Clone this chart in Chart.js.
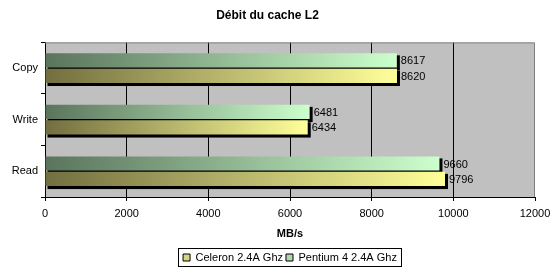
<!DOCTYPE html>
<html>
<head>
<meta charset="utf-8">
<script src="https://cdn.jsdelivr.net/npm/chart.js@4/dist/chart.umd.min.js"></script>
<style>
  html, body { margin: 0; padding: 0; background: #fff; }
  #wrap { width: 558px; height: 273px; }
</style>
</head>
<body>
<div id="wrap"><canvas id="myChart" width="558" height="273"></canvas></div>
<script>
const categories = ['Copy', 'Write', 'Read'];
const pentium = [8617, 6481, 9660];
const celeron = [8620, 6434, 9796];
const xTicks = [0, 2000, 4000, 6000, 8000, 10000, 12000];

const FONT = 'Arial, "Liberation Sans", sans-serif';

function barGradient(ctx, dark, light) {
    const chart = ctx.chart;
    const xs = chart.scales.x;
    if (!xs || ctx.raw === undefined) return light;
    const x0 = xs.getPixelForValue(0);
    const x1 = xs.getPixelForValue(ctx.raw);
    const g = chart.ctx.createLinearGradient(x0, 0, x1, 0);
    g.addColorStop(0, dark);
    g.addColorStop(1, light);
    return g;
}

// gray plot background, gray top/right border
const plotBg = {
    id: 'plotBg',
    beforeDraw(chart) {
        const {ctx, chartArea: a} = chart;
        ctx.save();
        ctx.fillStyle = '#c0c0c0';
        ctx.fillRect(a.left, a.top, a.right - a.left, a.bottom - a.top);
        ctx.restore();
    },
    afterDraw(chart) {
        const {ctx, chartArea: a} = chart;
        ctx.save();
        ctx.strokeStyle = '#808080';
        ctx.lineWidth = 1;
        ctx.beginPath();
        ctx.moveTo(a.left, a.top + 0.5);
        ctx.lineTo(a.right - 0.5, a.top + 0.5);
        ctx.lineTo(a.right - 0.5, a.bottom);
        ctx.stroke();
        ctx.restore();
    }
};

// black drop shadow under bars + value labels
const barExtras = {
    id: 'barExtras',
    beforeDatasetsDraw(chart) {
        const ctx = chart.ctx;
        ctx.save();
        ctx.fillStyle = '#000';
        chart.data.datasets.forEach((ds, i) => {
            chart.getDatasetMeta(i).data.forEach(bar => {
                const h = bar.height;
                ctx.fillRect(bar.base + 2, bar.y - h / 2 + 2, bar.x - bar.base + 1, h + 1);
            });
        });
        ctx.restore();
    },
    afterDatasetsDraw(chart) {
        const ctx = chart.ctx;
        ctx.save();
        ctx.fillStyle = '#000';
        ctx.font = '11px ' + FONT;
        ctx.textAlign = 'left';
        ctx.textBaseline = 'middle';
        chart.data.datasets.forEach((ds, i) => {
            chart.getDatasetMeta(i).data.forEach((bar, j) => {
                ctx.fillText(String(ds.data[j]), bar.x + 4, bar.y + 1);
            });
        });
        ctx.restore();
    }
};

// centre the legend under the plot area and frame it
const legendFrame = {
    id: 'legendFrame',
    afterLayout(chart) {
        const lg = chart.legend;
        if (!lg) return;
        lg.left = chart.chartArea.left;
        lg.right = chart.chartArea.right;
        lg.width = lg.right - lg.left;
    },
    afterDraw(chart) {
        const lg = chart.legend;
        if (!lg || !lg.legendHitBoxes.length) return;
        const boxes = lg.legendHitBoxes;
        const left = Math.min(...boxes.map(b => b.left)) - 5;
        const right = Math.max(...boxes.map(b => b.left + b.width)) + 4;
        const top = boxes[0].top - 4;
        const bottom = boxes[0].top + boxes[0].height + 3;
        const ctx = chart.ctx;
        ctx.save();
        ctx.strokeStyle = '#000';
        ctx.lineWidth = 1;
        ctx.strokeRect(Math.round(left) + 0.5, Math.round(top) + 0.5,
                       Math.round(right - left), Math.round(bottom - top));
        ctx.restore();
    }
};

const data = {
    labels: categories,
    datasets: [{
        label: 'Pentium 4 2.4A Ghz',
        data: pentium,
        backgroundColor: ctx => barGradient(ctx, '#5a745c', '#ccffcc'),
        legendColor: '#b0d8b0',
    }, {
        label: 'Celeron 2.4A Ghz',
        data: celeron,
        backgroundColor: ctx => barGradient(ctx, '#726e40', '#ffff99'),
        legendColor: '#d8d480',
    }]
};

const config = {
    type: 'bar',
    data: data,
    plugins: [plotBg, barExtras, legendFrame],
    options: {
        indexAxis: 'y',
        responsive: false,
        animation: false,
        categoryPercentage: 0.6,
        barPercentage: 0.92,
        layout: { padding: { left: 0, right: 23, top: 0, bottom: 0 } },
        scales: {
            x: {
                min: 0,
                max: 12000,
                afterBuildTicks: s => { s.ticks = xTicks.map(v => ({ value: v })); },
                afterFit: s => { s.height = 52; },
                grid: {
                    color: c => (c.index === xTicks.length - 1 ? 'rgba(0,0,0,0)' : '#000'),
                    tickColor: '#000',
                    tickLength: 4,
                    lineWidth: 1,
                },
                border: { color: '#000' },
                ticks: {
                    color: '#000',
                    font: { family: FONT, size: 11 },
                    padding: 6,
                    maxRotation: 0,
                    callback: v => String(v),
                },
                title: {
                    display: true,
                    text: 'MB/s',
                    color: '#000',
                    font: { family: FONT, size: 11, weight: 'bold' },
                    padding: { top: 4, bottom: 8 },
                },
            },
            y: {
                afterFit: s => { s.width = 45; },
                grid: {
                    offset: true,
                    drawOnChartArea: false,
                    tickColor: '#000',
                    tickLength: 4,
                },
                border: { color: '#000' },
                ticks: {
                    color: '#000',
                    font: { family: FONT, size: 11 },
                    padding: 3,
                },
            },
        },
        plugins: {
            title: {
                display: true,
                text: 'Débit du cache L2',
                color: '#000',
                font: { family: FONT, size: 12, weight: 'bold' },
                padding: { top: 8, bottom: 20 },
            },
            legend: {
                position: 'bottom',
                reverse: true,
                labels: {
                    color: '#000',
                    font: { family: FONT, size: 11 },
                    boxWidth: 7,
                    boxHeight: 7,
                    padding: 3,
                    generateLabels: chart => chart.data.datasets.map((ds, i) => ({
                        text: ds.label,
                        fillStyle: ds.legendColor,
                        strokeStyle: '#000',
                        lineWidth: 1,
                        hidden: false,
                        datasetIndex: i,
                        fontColor: '#000',
                    })),
                },
            },
            tooltip: { enabled: false },
        },
    },
};

new Chart(document.getElementById('myChart'), config);
</script>
</body>
</html>
